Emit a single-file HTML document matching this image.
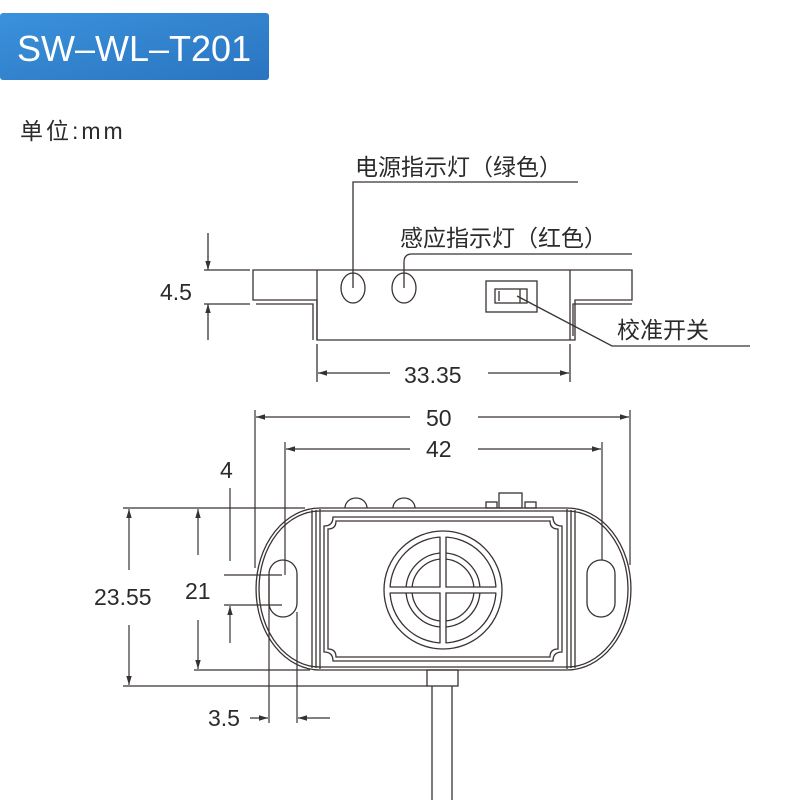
<!DOCTYPE html>
<html><head><meta charset="utf-8"><style>
html,body{margin:0;padding:0;background:#fff;width:800px;height:800px;overflow:hidden}
svg{display:block}
text{font-family:"Liberation Sans","Noto Sans CJK SC",sans-serif;fill:#2b2b2b}
</style></head><body>
<svg width="800" height="800" viewBox="0 0 800 800" xmlns="http://www.w3.org/2000/svg">
<defs>
<linearGradient id="bg" x1="0" y1="0" x2="1" y2="1"><stop offset="0" stop-color="#3b92dc"/><stop offset="1" stop-color="#2a74c0"/></linearGradient>
<marker id="ar" viewBox="0 0 10 10" refX="10" refY="5" markerWidth="9" markerHeight="9" markerUnits="userSpaceOnUse" orient="auto"><path d="M0,2 L10,5 L0,8 z" fill="#333"/></marker>
</defs>
<rect x="0" y="13" width="269" height="67" rx="3" fill="url(#bg)"/>
<text x="17" y="61" font-size="36" style="fill:#fff">SW–WL–T201</text>
<text x="20" y="139" font-size="23" letter-spacing="3">单位:mm</text>

<g stroke="#3a3232" stroke-width="1.3" fill="none">
<path d="M253,270 H632 V300 H575 V340 H317 V300 H253 Z"/>
<path d="M256,304 H313 V340 M632,304 H573 V336"/>
<line x1="317" y1="270" x2="317" y2="340"/><line x1="570" y1="270" x2="570" y2="340"/>
<ellipse cx="353" cy="288" rx="12" ry="15"/><ellipse cx="404" cy="288" rx="12" ry="15"/>
<rect x="486" y="281" width="51" height="31"/><rect x="495" y="289" width="32" height="14"/><line x1="499" y1="291" x2="499" y2="301"/><line x1="520" y1="289" x2="520" y2="303"/>
<path d="M353,288 V182 H578"/>
<path d="M404,288 V262 Q404,254 412,254 H632"/>
<path d="M517,296 L612,346 H750"/>
<line x1="204" y1="270" x2="250" y2="270"/><line x1="204" y1="304" x2="250" y2="304"/>
<line x1="208" y1="233" x2="208" y2="270" marker-end="url(#ar)"/>
<line x1="208" y1="340" x2="208" y2="304" marker-end="url(#ar)"/>
<line x1="317" y1="344" x2="317" y2="382"/><line x1="570" y1="344" x2="570" y2="382"/>
<line x1="390" y1="373" x2="318" y2="373" marker-end="url(#ar)"/>
<line x1="488" y1="373" x2="569" y2="373" marker-end="url(#ar)"/>

<path d="M320,508 H567 A64,81 0 0 1 567,670 H320 A64,81 0 0 1 320,508 Z"/>
<path d="M320,511 H567 A61,78 0 0 1 567,667 H320 A61,78 0 0 1 320,511 Z"/>
<line x1="312" y1="510" x2="312" y2="668"/><line x1="316" y1="510" x2="316" y2="668"/><line x1="320" y1="509" x2="320" y2="669"/>
<line x1="567" y1="509" x2="567" y2="669"/><line x1="571" y1="510" x2="571" y2="668"/><line x1="575" y1="510" x2="575" y2="668"/>
<path d="M333,517 H553 Q553,526 562,526 V652 Q553,652 553,661 H333 Q333,652 324,652 V526 Q333,526 333,517 Z"/>
<path d="M336,521 H550 Q550,529 558,529 V649 Q550,649 550,657 H336 Q336,649 328,649 V529 Q336,529 336,521 Z"/>
<rect x="269" y="560" width="28" height="57" rx="14"/>
<rect x="587" y="560" width="28" height="57" rx="14"/>
<path d="M345,508 A11,10 0 0 1 367,508 M393,508 A11,10 0 0 1 415,508"/>
<rect x="499" y="493" width="23" height="15"/><rect x="486" y="502" width="11" height="6"/><rect x="525" y="502" width="11" height="6"/>
<rect x="427" y="670" width="31" height="16"/>
<line x1="432" y1="686" x2="432" y2="800"/><line x1="452" y1="686" x2="452" y2="800"/>
<circle cx="443" cy="590" r="59"/><circle cx="443" cy="590" r="53"/>
<circle cx="443" cy="590" r="37"/><circle cx="443" cy="590" r="31"/>
</g>
<g stroke="#fff" stroke-width="5" fill="none">
<line x1="443" y1="535" x2="443" y2="645"/><line x1="388" y1="590" x2="498" y2="590"/>
</g>
<g stroke="#3a3232" stroke-width="1.3" fill="none">
<path d="M440,537 V587 H390 M446,537 V587 H496 M440,643 V593 H390 M446,643 V593 H496"/>
</g>

<g stroke="#3a3232" stroke-width="1.2" fill="none">
<line x1="255" y1="410" x2="255" y2="568"/><line x1="630" y1="410" x2="630" y2="565"/>
<line x1="410" y1="417" x2="256" y2="417" marker-end="url(#ar)"/>
<line x1="478" y1="417" x2="629" y2="417" marker-end="url(#ar)"/>
<line x1="285" y1="442" x2="285" y2="575"/><line x1="602" y1="442" x2="602" y2="560"/>
<line x1="410" y1="449" x2="286" y2="449" marker-end="url(#ar)"/>
<line x1="478" y1="449" x2="601" y2="449" marker-end="url(#ar)"/>
<line x1="123" y1="508" x2="305" y2="508"/>
<line x1="123" y1="686" x2="428" y2="686"/>
<line x1="194" y1="670" x2="310" y2="670"/>
<line x1="224" y1="575" x2="282" y2="575"/><line x1="224" y1="605" x2="282" y2="605"/>
<line x1="129" y1="570" x2="129" y2="509" marker-end="url(#ar)"/>
<line x1="129" y1="625" x2="129" y2="685" marker-end="url(#ar)"/>
<line x1="198" y1="555" x2="198" y2="509" marker-end="url(#ar)"/>
<line x1="198" y1="620" x2="198" y2="669" marker-end="url(#ar)"/>
<line x1="230" y1="488" x2="230" y2="561"/>
<line x1="230" y1="643" x2="230" y2="606" marker-end="url(#ar)"/>
<line x1="269" y1="578" x2="269" y2="723"/><line x1="297" y1="612" x2="297" y2="723"/>
<line x1="250" y1="718" x2="268" y2="718" marker-end="url(#ar)"/>
<line x1="330" y1="718" x2="298" y2="718" marker-end="url(#ar)"/>
</g>

<text x="355" y="175" font-size="23">电源指示灯（绿色）</text>
<text x="400" y="246" font-size="23">感应指示灯（红色）</text>
<text x="617" y="338" font-size="23">校准开关</text>
<text x="160" y="300" font-size="23">4.5</text>
<text x="404" y="383" font-size="23">33.35</text>
<text x="426" y="426" font-size="23">50</text>
<text x="426" y="457" font-size="23">42</text>
<text x="220" y="478" font-size="23">4</text>
<text x="94" y="605" font-size="23">23.55</text>
<text x="185" y="599" font-size="23">21</text>
<text x="208" y="726" font-size="23">3.5</text>
</svg>
</body></html>
